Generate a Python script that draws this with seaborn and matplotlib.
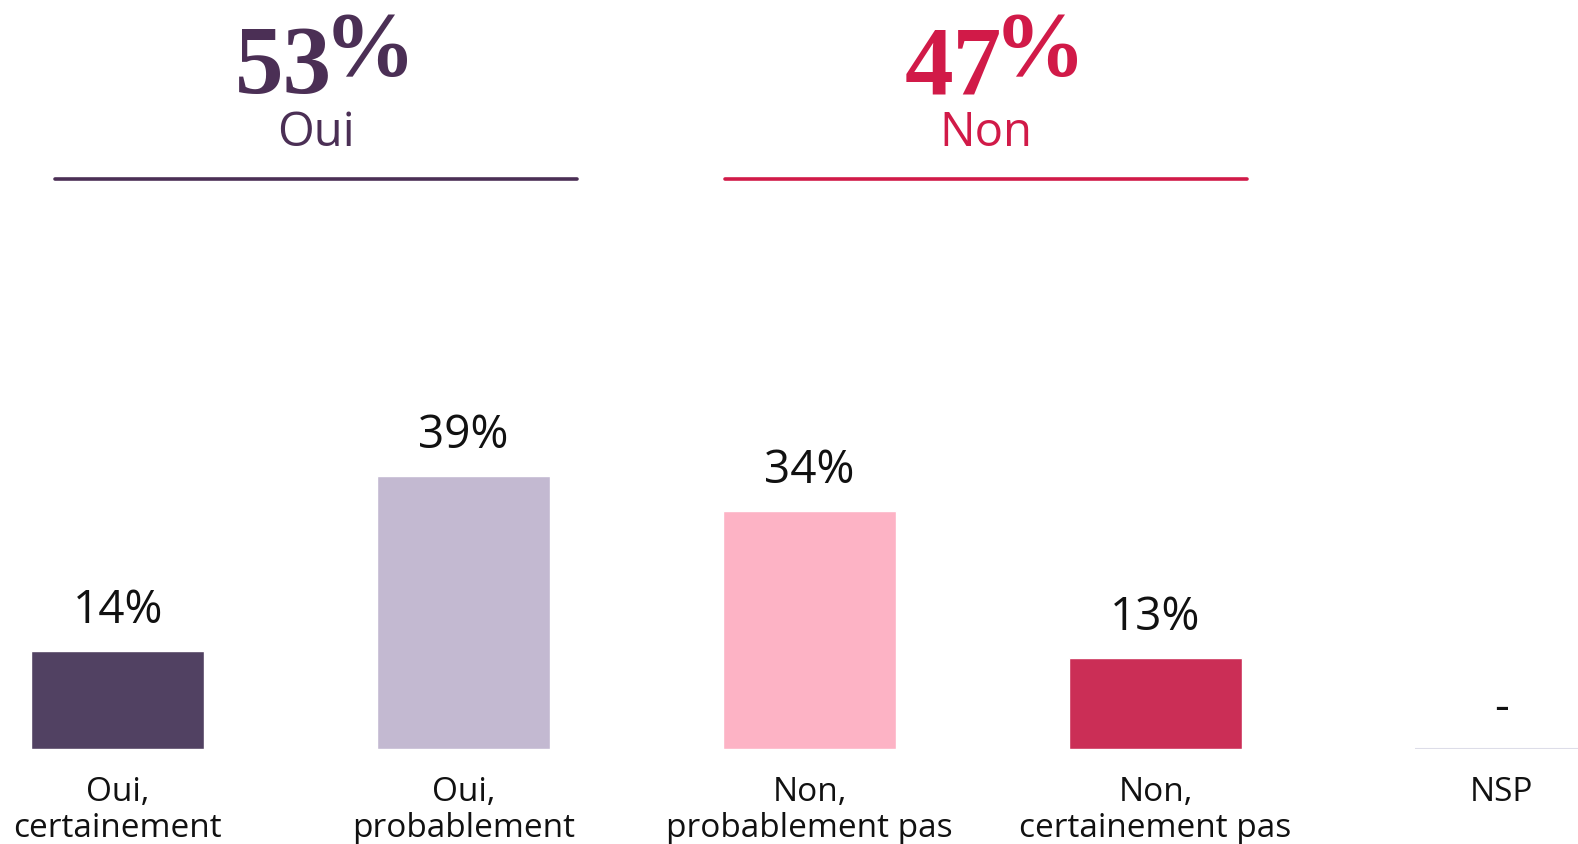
import matplotlib
matplotlib.use("Agg")
import matplotlib.pyplot as plt
from matplotlib.lines import Line2D
import pandas as pd
import seaborn as sns

# DATA
categories = ["Oui,\ncertainement", "Oui,\nprobablement", "Non,\nprobablement pas",
              "Non,\ncertainement pas", "NSP"]
values = [14, 39, 34, 13, 0]
value_labels = ["14%", "39%", "34%", "13%", "-"]
bar_colors = ["#514162", "#c3b9d1", "#fdb3c5", "#cb2e56", "#ffffff"]
group_names = ["Oui", "Non"]
group_colors = ["#4b2f55", "#d11a48"]
oui_total = sum(values[:2])
non_total = sum(values[2:4])

df = pd.DataFrame({"cat": categories, "val": values})

# PLOTTING
sns.set_theme(style="white")
plt.rcParams["font.family"] = ["Open Sans", "DejaVu Sans"]

W, H = 1578, 845
fig = plt.figure(figsize=(W / 100, H / 100), dpi=100)
ax = fig.add_axes([0, (H - 750) / H, 1, 750 / H])

sns.barplot(data=df, x="cat", y="val", hue="cat", palette=bar_colors,
            legend=False, width=0.5, saturation=1, ax=ax)

# NSP has no bar, just a faint baseline
nsp = ax.patches[4]
nsp.set_edgecolor("#dddde8")
nsp.set_linewidth(1.5)

# value labels above the bars
for p, lab in zip(ax.patches, value_labels):
    ax.annotate(lab, (p.get_x() + p.get_width() / 2, p.get_height()),
                xytext=(0, 21), textcoords="offset points",
                ha="center", va="baseline", fontsize=33, color="#111111")

ax.set_xlim(-0.340, 4.221)
ax.set_ylim(0, 107.3)
ax.set_xlabel("")
ax.set_ylabel("")
ax.set_yticks([])
ax.tick_params(axis="x", length=0, pad=19, labelsize=24, labelcolor="#111111")
for lab in ax.get_xticklabels():
    lab.set_linespacing(1.1)
sns.despine(ax=ax, left=True, bottom=True)


def fx(x):
    return x / W


def fy(y):
    return 1 - y / H


# group headers
headers = [(f"{oui_total}", group_names[0], group_colors[0], 316, 55, 577),
           (f"{non_total}", group_names[1], group_colors[1], 986, 725, 1247)]
for num, name, col, cx, x0, x1 in headers:
    fig.text(fx(cx + 16), fy(93), num, ha="right", va="baseline",
             family="Liberation Serif", fontweight="bold", fontsize=70, color=col)
    fig.text(fx(cx + 8), fy(75), "%", ha="left", va="baseline",
             family="Liberation Serif", fontweight="bold", fontsize=66, color=col)
    fig.text(fx(cx), fy(146), name, ha="center", va="baseline",
             fontsize=34, color=col)
    fig.add_artist(Line2D([fx(x0), fx(x1)], [fy(180), fy(180)],
                          color=col, linewidth=2.6))

# OUTPUT
fig.savefig("out.png", dpi=100)
